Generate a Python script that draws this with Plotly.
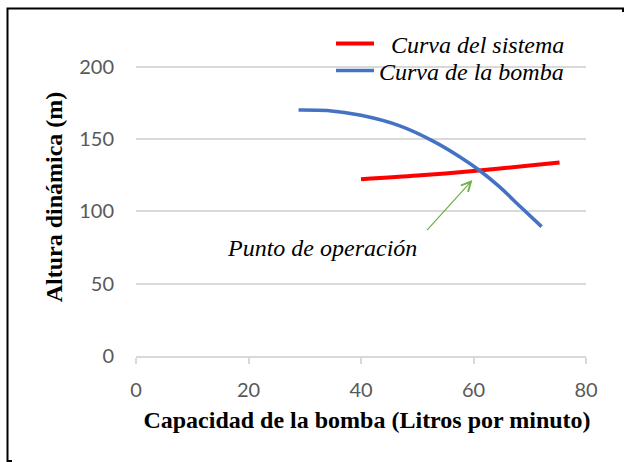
import plotly.graph_objects as go

# Data
bomba_q = [28.9, 34.0, 40.0, 46.9, 52.9, 57.6, 61.2, 64.7, 68.3, 72.1]
bomba_h = [170.2, 169.8, 166.5, 159.2, 148.5, 137.7, 128.0, 116.8, 103.4, 89.5]

sistema_q = [40.0, 50.0, 60.0, 70.0, 75.3]
sistema_h = [122.3, 124.8, 128.0, 131.8, 133.9]

punto_op = (59.8, 121.8)      # arrow head
punto_tail = (51.5, 86.0)     # arrow tail
label_pos = (33.1, 75.0)

x_ticks = [0, 20, 40, 60, 80]
y_ticks = [0, 50, 100, 150, 200]

serif = "Liberation Serif, Times New Roman, serif"
tickfont = dict(family="Lato, Open Sans, sans-serif", size=20, color="#595959")
legfont = dict(family=serif, size=24, color="black", style="italic")

L, R, T, B = 136, 38, 38, 106
W, H = 624, 462
pw, ph = W - L - R, H - T - B


def px_x(p):
    return (p - L) / pw


def px_y(p):
    return (H - B - p) / ph


fig = go.Figure()
fig.add_trace(go.Scatter(x=sistema_q, y=sistema_h, mode="lines",
                         name="\u00a0\u00a0Curva del sistema", legend="legend",
                         line=dict(color="#FF0000", width=4, shape="spline", smoothing=0.8)))
fig.add_trace(go.Scatter(x=bomba_q, y=bomba_h, mode="lines",
                         name="Curva de la bomba", legend="legend2",
                         line=dict(color="#4472C4", width=3.5, shape="spline", smoothing=0.8)))

fig.add_annotation(x=label_pos[0], y=label_pos[1], text="<i>Punto de operación</i>",
                   showarrow=False, font=dict(family=serif, size=24, color="black"))
fig.add_annotation(x=punto_op[0], y=punto_op[1], ax=punto_tail[0], ay=punto_tail[1],
                   axref="x", ayref="y", text="", showarrow=True,
                   arrowhead=5, arrowsize=1.6, arrowwidth=1.2, arrowcolor="#70AD47")

# white legend background hiding the gridline
fig.add_shape(type="rect", xref="paper", yref="paper",
              x0=px_x(322), x1=px_x(585), y0=px_y(90), y1=px_y(28),
              fillcolor="white", line=dict(width=0), layer="between")

# outer frame kept inside the picture
fig.add_shape(type="rect", xref="paper", yref="paper",
              x0=px_x(7.5), x1=px_x(W - 1), y0=px_y(H - 1), y1=px_y(8.5),
              fillcolor="rgba(0,0,0,0)",
              line=dict(color="black", width=2), layer="below")
# hide the right and bottom frame edges (not visible in the reference)
fig.add_shape(type="rect", xref="paper", yref="paper",
              x0=px_x(W - 4), x1=px_x(W), y0=px_y(H - 4), y1=px_y(12),
              fillcolor="white", line=dict(width=0), layer="below")
fig.add_shape(type="rect", xref="paper", yref="paper",
              x0=px_x(12), x1=px_x(W), y0=px_y(H), y1=px_y(H - 4),
              fillcolor="white", line=dict(width=0), layer="below")

fig.update_layout(
    width=W, height=H,
    margin=dict(l=L, r=R, t=T, b=B, pad=0, autoexpand=False),
    paper_bgcolor="white", plot_bgcolor="white",
    showlegend=True,
    legend=dict(x=px_x(331), y=px_y(44), xanchor="left", yanchor="middle",
                bgcolor="rgba(0,0,0,0)", font=legfont, itemwidth=38, borderwidth=0),
    legend2=dict(x=px_x(331), y=px_y(71), xanchor="left", yanchor="middle",
                 bgcolor="rgba(0,0,0,0)", font=legfont, itemwidth=38, borderwidth=0),
    xaxis=dict(range=[0, 80], tickvals=x_ticks, showgrid=False, zeroline=False,
               showline=True, linecolor="#D9D9D9", linewidth=2, automargin=False,
               ticks="outside", ticklen=6, tickcolor="#D9D9D9", tickwidth=2,
               tickfont=tickfont, ticklabelstandoff=9,
               title=dict(text="<b>\u00a0\u00a0Capacidad de la bomba (Litros por minuto)</b>",
                          font=dict(family=serif, size=24, color="black"), standoff=11)),
    yaxis=dict(range=[0, 220], tickvals=y_ticks, showgrid=True, gridcolor="#D9D9D9",
               gridwidth=1.5, zeroline=False, showline=False, ticks="", automargin=False,
               tickfont=tickfont, ticklabelstandoff=21,
               title=dict(text="<b>Altura dinámica (m)</b>",
                          font=dict(family=serif, size=24, color="black"), standoff=9)),
)

fig.write_html("out.html", config={"displayModeBar": False},
               post_script="document.body.style.margin='0';")
